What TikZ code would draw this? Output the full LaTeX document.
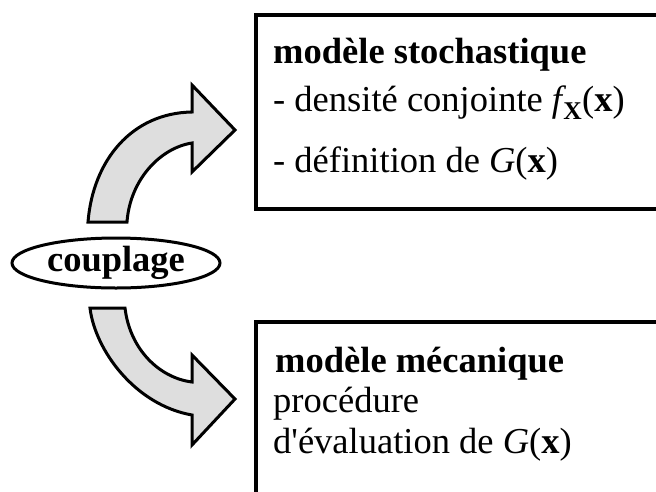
\documentclass[tikz,border=0pt]{standalone}
\usepackage{fontspec}
\setmainfont{Liberation Serif}
\usetikzlibrary{shapes.geometric}
\definecolor{arrowfill}{RGB}{222,222,222}
\begin{document}
\begin{tikzpicture}[x=1pt,y=-1pt,
  bigarrow/.style={draw=black, line width=3pt, fill=arrowfill, line join=miter},
  modelbox/.style={draw=black, line width=4pt, anchor=north west, inner sep=0pt},
  titletext/.style={anchor=base west, inner sep=0pt, font=\fontsize{36.5}{44}\selectfont\bfseries},
  bodytext/.style={anchor=base west, inner sep=0pt, font=\fontsize{36.5}{44}\selectfont},
  couplenode/.style={ellipse, draw=black, line width=3pt, minimum width=208pt, minimum height=50pt, inner sep=0pt, font=\fontsize{36.5}{44}\selectfont\bfseries}]
\useasboundingbox (0,0) rectangle (656,491);
\clip (0,0) rectangle (656,491);
\fill[white] (0,0) rectangle (656,491);

% boxes
\node[modelbox, minimum width=480pt, minimum height=194pt] (stochbox) at (254,13) {};
\node[modelbox, minimum width=480pt, minimum height=240pt] (mecabox) at (254,320) {};

% coupling ellipse
\node[couplenode] (couplage) at (116,263) {couplage};

% curved arrows
\draw[bigarrow] (88,222) .. controls (93,160) and (132,113) .. (192,112)
  -- (192,85) -- (235,130) -- (192,172) -- (192,143)
  .. controls (160,148) and (130,180) .. (127,222) -- cycle;
\draw[bigarrow] (90,308) .. controls (95,350) and (135,405) .. (192,415)
  -- (192,445) -- (235,399) -- (192,355) -- (192,382)
  .. controls (160,378) and (130,350) .. (125,308) -- cycle;

% texts
\node[titletext] (stochtitle) at (273,63) {modèle stochastique};
\node[bodytext] (stochdens) at (273,111) {- densité conjointe \textit{f}\kern-3pt\textsubscript{\textbf{X}}(\textbf{x})};
\node[bodytext] (stochdef) at (273,172) {- définition de \textit{G}(\textbf{x})};
\node[titletext] (mecatitle) at (275,372) {modèle mécanique};
\node[bodytext] (mecaproc) at (273,412) {procédure};
\node[bodytext] (mecaeval) at (273,453) {d\textquotesingle évaluation de \textit{G}(\textbf{x})};
\end{tikzpicture}
\end{document}
